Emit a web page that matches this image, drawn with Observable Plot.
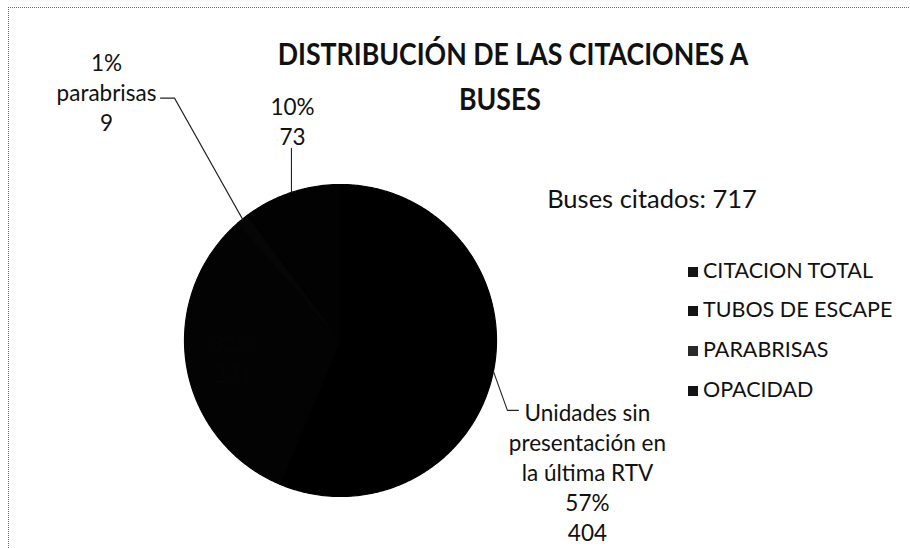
<!DOCTYPE html>
<html>
<head>
<meta charset="utf-8">
<script src="https://cdn.jsdelivr.net/npm/d3@7"></script>
<script src="https://cdn.jsdelivr.net/npm/@observablehq/plot@0.6"></script>
<style>
  html, body { margin: 0; padding: 0; background: #fff; }
  #wrap { position: relative; width: 910px; height: 548px; overflow: hidden; background: #fff;
          font-family: Lato, "Open Sans", sans-serif; color: #111; }
  #frame { position: absolute; left: 8px; top: 7px; width: 920px; height: 560px;
           border-top: 1.5px dotted #6a6a6a; border-left: 1.5px dotted #6a6a6a; }
  #chart { position: absolute; left: 0; top: 0; }
  .t { position: absolute; white-space: nowrap; line-height: 1; }
  .sw { position: absolute; width: 10px; height: 10px; }
</style>
</head>
<body>
<div id="wrap">
  <div id="frame"></div>
  <div id="chart"></div>
</div>
<script>
// ---- data ----
const title = ["DISTRIBUCIÓN DE LAS CITACIONES A", "BUSES"];
const subtitle = "Buses citados: 717";
const categories = ["CITACION TOTAL", "TUBOS DE ESCAPE", "PARABRISAS", "OPACIDAD"];
const values = [404, 231, 9, 73];
const percents = ["57%", "32%", "1%", "10%"];
const labelNames = ["Unidades sin\npresentación en\nla última RTV", "", "parabrisas", ""];
const colors = ["#000000", "#030303", "#060606", "#020202"];

// ---- layout (pixels) ----
const W = 910, H = 548, CX = 340, CY = 340, R = 156;
const wrap = document.getElementById("wrap");

function place(text, x, baseline, size, opts = {}) {
  const d = document.createElement("div");
  d.className = "t";
  d.textContent = text;
  d.style.fontSize = size + "px";
  d.style.fontWeight = opts.weight || 400;
  d.style.top = (baseline - 0.887 * size) + "px";
  if (opts.anchor === "middle") { d.style.left = (x - 400) + "px"; d.style.width = "800px"; d.style.textAlign = "center"; }
  else d.style.left = x + "px";
  if (opts.scaleX) { d.style.transform = `scaleX(${opts.scaleX})`; d.style.transformOrigin = opts.anchor === "middle" ? "50% 50%" : "0 50%"; }
  wrap.appendChild(d);
  return d;
}

// Title & subtitle
place(title[0], 513, 65, 30.5, {weight: 700, anchor: "middle", scaleX: 0.875});
place(title[1], 500, 110, 30.5, {weight: 700, anchor: "middle", scaleX: 0.875});
place(subtitle, 652, 209, 25.5, {anchor: "middle"});

// Legend
const legendRows = [272, 311, 351, 391];
categories.forEach((c, i) => {
  const s = document.createElement("div");
  s.className = "sw";
  s.style.left = "688px"; s.style.top = (legendRows[i] - 5) + "px";
  s.style.background = i === 2 ? "#2a2a2a" : "#141414";
  wrap.appendChild(s);
  place(c, 703, legendRows[i] + 7.5, 21.5);
});

// ---- pie geometry from data ----
const arcs = d3.pie().sort(null)(values);
const slices = arcs.map((a, i) => ({
  category: categories[i], value: values[i], percent: percents[i], name: labelNames[i],
  start: a.startAngle, end: a.endAngle, mid: (a.startAngle + a.endAngle) / 2
}));
const polyPts = slices.flatMap(s => {
  const n = Math.max(2, Math.ceil((s.end - s.start) / 0.01));
  const pts = [{category: s.category, x: 0, y: 0}];
  for (let k = 0; k <= n; k++) {
    const a = s.start + (s.end - s.start) * k / n;
    pts.push({category: s.category, x: Math.sin(a), y: -Math.cos(a)});
  }
  return pts;
});

// callout layout: pixel offsets relative to the slice's edge point
const callout = {
  "CITACION TOTAL": {path: [[0, 0], [14, 39], [25, 39]], text: [94, 100],
                     lines: s => [s.name, s.percent, String(s.value)], fill: "#111"},
  "PARABRISAS": {path: [[0, 0], [-68, -121], [-82, -121]], text: [-136, -128],
                 lines: s => [s.percent, s.name, String(s.value)], fill: "#111"},
  "OPACIDAD": {path: [[0, 0], [0, -44]], text: [1, -72],
               lines: s => [s.percent, String(s.value)], fill: "#111"},
  "TUBOS DE ESCAPE": {inside: 0.7, lines: s => [s.percent, String(s.value)], fill: "#050505"}
};

const leaderPts = [];
const labels = [];
slices.forEach(s => {
  const c = callout[s.category];
  const ex = Math.sin(s.mid), ey = -Math.cos(s.mid);
  if (c.inside) {
    labels.push({x: ex * c.inside, y: ey * c.inside, text: c.lines(s).join("\n"), fill: c.fill});
    return;
  }
  c.path.forEach(([dx, dy]) => leaderPts.push({category: s.category, x: ex + dx / R, y: ey + dy / R}));
  labels.push({x: ex + c.text[0] / R, y: ey + c.text[1] / R, text: c.lines(s).join("\n"), fill: c.fill});
});

const chart = Plot.plot({
  width: W, height: H, margin: 0,
  style: {background: "transparent", overflow: "visible"},
  x: {domain: [-1, 1], range: [CX - R, CX + R], axis: null},
  y: {domain: [-1, 1], range: [CY - R, CY + R], axis: null},
  color: {domain: categories, range: colors},
  marks: [
    Plot.line(polyPts, {x: "x", y: "y", z: "category", fill: "category", stroke: "category",
                        strokeWidth: 1.2, curve: "linear-closed"}),
    Plot.line(leaderPts, {x: "x", y: "y", z: "category", stroke: "#222", strokeWidth: 1.1}),
    Plot.text(labels, {x: "x", y: "y", text: "text", fill: "fill", fontSize: 22.5, lineHeight: 1.34,
                       lineAnchor: "middle", textAnchor: "middle", fontFamily: "Lato, 'Open Sans', sans-serif"})
  ]
});
document.getElementById("chart").appendChild(chart);
</script>
</body>
</html>
